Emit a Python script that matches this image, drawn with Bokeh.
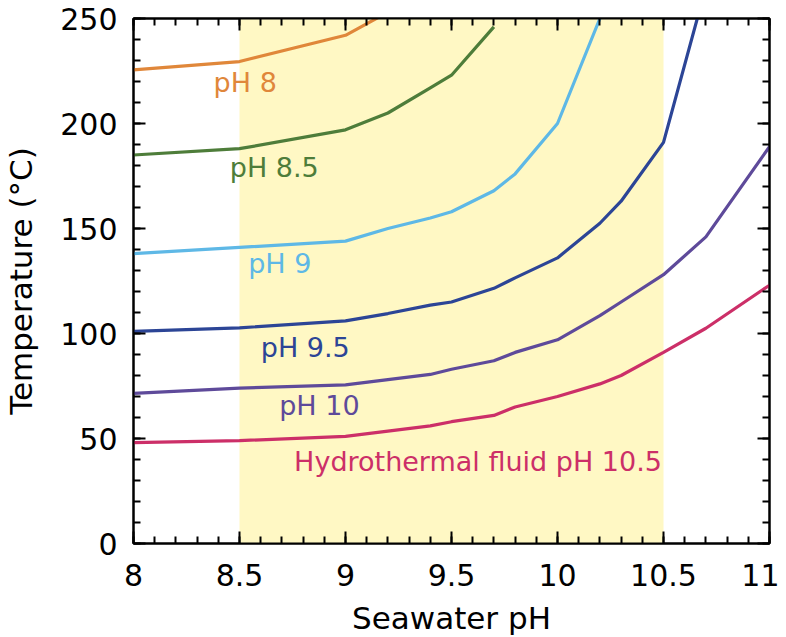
from bokeh.plotting import figure
from bokeh.models import (Range1d, SingleIntervalTicker, LinearAxis, BoxAnnotation,
                          ColumnDataSource, CustomJSTickFormatter)
from bokeh.core.properties import value
from bokeh.embed import file_html
from bokeh.resources import INLINE

# ---- data ----
ph8_x = [8.0, 8.5, 9.0, 9.2]
ph8_y = [225.5, 229.5, 242, 253]

ph85_x = [8.0, 8.5, 9.0, 9.2, 9.4, 9.5, 9.7]
ph85_y = [185, 188, 197, 205, 217, 223, 246]

ph9_x = [8.0, 8.5, 9.0, 9.2, 9.4, 9.5, 9.7, 9.8, 10.0, 10.2]
ph9_y = [138, 141, 144, 150, 155, 158, 168, 176, 200, 250]

ph95_x = [8.0, 8.5, 9.0, 9.2, 9.4, 9.5, 9.7, 9.8, 10.0, 10.2, 10.3, 10.5, 10.7]
ph95_y = [101, 102.7, 106, 109.5, 113.5, 115, 121.5, 126.5, 136, 152.5, 163, 191, 265]

ph10_x = [8.0, 8.5, 9.0, 9.2, 9.4, 9.5, 9.7, 9.8, 10.0, 10.2, 10.3, 10.5, 10.7, 11.0]
ph10_y = [71.5, 74, 75.5, 78, 80.5, 83, 87, 91, 97, 108.5, 115, 128, 146, 189]

ph105_x = [8.0, 8.5, 9.0, 9.2, 9.4, 9.5, 9.7, 9.8, 10.0, 10.2, 10.3, 10.5, 10.7, 11.0]
ph105_y = [48, 49, 51, 53.5, 56, 58, 61, 65, 70, 76, 80, 91, 102.5, 123]

series_names = ["pH 8", "pH 8.5", "pH 9", "pH 9.5", "pH 10", "Hydrothermal fluid pH 10.5"]
series_x = [ph8_x, ph85_x, ph9_x, ph95_x, ph10_x, ph105_x]
series_y = [ph8_y, ph85_y, ph9_y, ph95_y, ph10_y, ph105_y]

shade_range = [8.5, 10.5]

x_tick_labels = {8: "8", 8.5: "8.5", 9: "9", 9.5: "9.5", 10: "10", 10.5: "10.5", 11: "11"}

# ---- styles / positions ----
colors = ["#E0873A", "#4E7D3A", "#5EB8E6", "#2C4596", "#5E4A9A", "#CC2F68"]
label_x = [8.527, 8.664, 8.69, 8.81, 8.877, 9.625]
label_y = [219.5, 179, 133.5, 93.5, 65.5, 39]

FONT = "DejaVu Sans"

p = figure(frame_width=636, frame_height=525, output_backend="svg", toolbar_location=None,
           x_range=Range1d(8, 11), y_range=Range1d(0, 250),
           min_border_left=132, min_border_right=10, min_border_top=18,
           min_border_bottom=10)
p.grid.visible = False
p.outline_line_color = "black"
p.outline_line_width = 2
p.background_fill_color = "white"
p.border_fill_color = "white"

p.add_layout(BoxAnnotation(left=shade_range[0], right=shade_range[1],
                           fill_color="#FFF8C4", fill_alpha=1.0, line_color=None,
                           level="underlay"))

for xs, ys, c in zip(series_x, series_y, colors):
    p.line(xs, ys, line_color=c, line_width=3.2)

src = ColumnDataSource(dict(x=label_x, y=label_y, t=series_names, c=colors))
p.text(x="x", y="y", text="t", text_color="c", source=src,
       text_font=value(FONT), text_font_size="27px",
       text_align="center", text_baseline="middle")

xt = SingleIntervalTicker(interval=0.5, num_minor_ticks=5)
yt = SingleIntervalTicker(interval=50, num_minor_ticks=5)


def style_axis(ax):
    ax.axis_line_width = 2
    ax.major_tick_line_width = 2
    ax.minor_tick_line_width = 2
    ax.major_tick_in = 12
    ax.major_tick_out = 0
    ax.minor_tick_in = 7
    ax.minor_tick_out = 0
    ax.major_label_text_font = FONT
    ax.axis_label_text_font = FONT
    ax.axis_label_text_font_style = "normal"
    ax.major_label_text_color = "black"
    ax.axis_label_text_color = "black"


p.xaxis.ticker = xt
p.yaxis.ticker = yt
p.xaxis.major_label_overrides = x_tick_labels
p.xaxis.axis_label = "Seawater pH"
p.yaxis.axis_label = "Temperature (°C)"
for ax in (p.xaxis[0], p.yaxis[0]):
    style_axis(ax)
    ax.major_label_text_font_size = "30px"
    ax.axis_label_text_font_size = "31px"
p.xaxis.major_label_standoff = 20
p.yaxis.major_label_standoff = 16
p.xaxis.axis_label_standoff = 11
p.yaxis.axis_label_standoff = 18

blank = CustomJSTickFormatter(code="return ''")
top = LinearAxis(ticker=xt, formatter=blank)
right = LinearAxis(ticker=yt, formatter=blank)
for ax in (top, right):
    style_axis(ax)
    ax.major_label_standoff = 0
p.add_layout(top, "above")
p.add_layout(right, "right")

open("out.html", "w").write(file_html(p, INLINE))
